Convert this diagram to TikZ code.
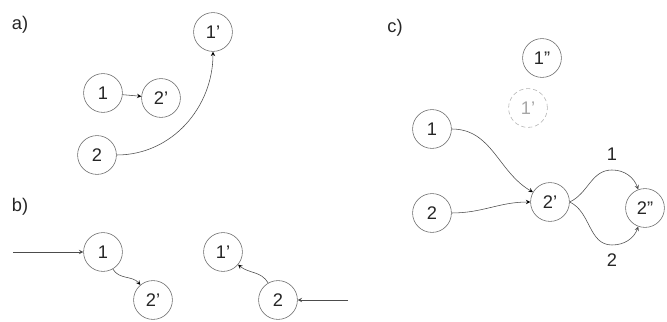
\documentclass[tikz,border=0pt]{standalone}
\usepackage{fontspec}
\setmainfont{Liberation Sans}
\usetikzlibrary{arrows}
\tikzset{
->, % directed edges
>=stealth, % small filled heads
x=0.025cm, y=0.025cm, % one unit per pixel of the sketch
every node/.style={font=\fontsize{13}{15}\selectfont, text=black!85},
place/.style={circle, draw=black!60, thin, minimum size=0.97cm, inner sep=0pt}, % sets the look of each circle
ghost/.style={place, draw=gray!60, densely dashed, text=gray!70}, % the faded circle
edgeline/.style={draw=black!70, thin},
}
\begin{document}
\begin{tikzpicture}
            \useasboundingbox (0,0) rectangle (667,322);

            % a)
            \node at (20,297) (la) {a)};
            \node[place] at (213,290) (a1p) {1'};
            \node[place] at (103,229) (a1) {1};
            \node[place] at (161,224) (a2p) {2'};
            \node[place] at (97,167) (a2) {2};
            \draw[edgeline]   (a1) edge (a2p);
            \draw[edgeline]   (a2) edge[out=0, in=-90] (a1p);

            % b)
            \node at (20,115) (lb) {b)};
            \node[place] at (103,70) (b1) {1};
            \node[place] at (153,22) (b2p) {2'};
            \node[place] at (223,70) (b1p) {1'};
            \node[place] at (278,22) (b2) {2};
            \coordinate (bin1) at (13,70);
            \coordinate (bin2) at (348,22);
            \draw[edgeline]   (bin1) -- (b1);
            \draw[edgeline]   (bin2) -- (b2);
            \draw[edgeline]   (b1) edge[out=-60, in=130] (b2p);
            \draw[edgeline]   (b2) edge[out=120, in=-40] (b1p);

            % c)
            \node at (395,294) (lc) {c)};
            \node[place] at (542,264) (c1pp) {1''};
            \node[ghost] at (528,214) (c1p) {1'};
            \node[place] at (432,193) (c1) {1};
            \node[place] at (432,109) (c2) {2};
            \node[place] at (550,120) (c2p) {2'};
            \node[place] at (645,114) (c2pp) {2''};
            \coordinate (ctop) at (612,152);
            \coordinate (cbot) at (612,77);
            \draw[edgeline]   (c1) edge[out=0, in=150] (c2p);
            \draw[edgeline]   (c2) edge[out=0, in=180] (c2p);
            \draw[edgeline]   (c2p.east) to[out=25, in=180] (ctop) to[out=0, in=110] (c2pp);
            \draw[edgeline]   (c2p.east) to[out=-25, in=180] (cbot) to[out=0, in=-110] (c2pp);
            \node[above=3pt] at (ctop) (lone) {1};
            \node[below=3pt] at (cbot) (ltwo) {2};
        \end{tikzpicture}
\end{document}
